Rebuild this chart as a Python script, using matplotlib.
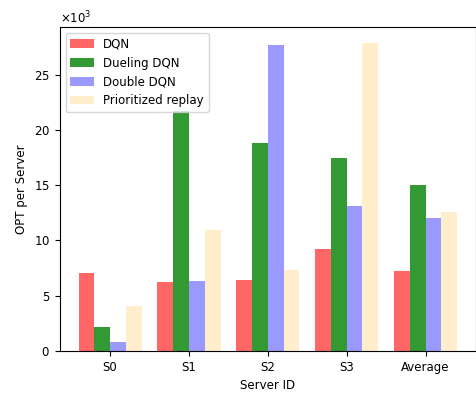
import matplotlib
matplotlib.use("Agg")
import matplotlib.pyplot as plt
import numpy as np

servers = ["S0", "S1", "S2", "S3", "Average"]
dqn = [7020, 6230, 6410, 9180, 7220]
dueling = [2150, 21700, 18800, 17500, 15000]
double = [810, 6290, 27700, 13100, 12000]
prioritized = [4040, 10900, 7320, 27900, 12550]

fig = plt.figure(figsize=(4.77, 3.93), dpi=100)
ax = fig.add_axes([0.125, 0.107, 0.873, 0.824])

x = np.arange(len(servers))
w = 0.2
ax.bar(x - 1.5 * w, dqn, w, color="red", alpha=0.6, label="DQN")
ax.bar(x - 0.5 * w, dueling, w, color="green", alpha=0.8, label="Dueling DQN")
ax.bar(x + 0.5 * w, double, w, color="blue", alpha=0.4, label="Double DQN")
ax.bar(x + 1.5 * w, prioritized, w, color="orange", alpha=0.2, label="Prioritized replay")

fs = 8.5
ax.set_xticks(x)
ax.set_xticklabels(servers, fontsize=fs)
ax.tick_params(axis="y", labelsize=fs)
ax.ticklabel_format(axis="y", style="sci", scilimits=(3, 3), useMathText=True)
ax.yaxis.get_offset_text().set_fontsize(fs)
ax.set_xlabel("Server ID", fontsize=fs)
ax.set_ylabel("OPT per Server", fontsize=fs)
ax.legend(loc="upper left", fontsize=fs)

fig.savefig("out.png", dpi=100)
